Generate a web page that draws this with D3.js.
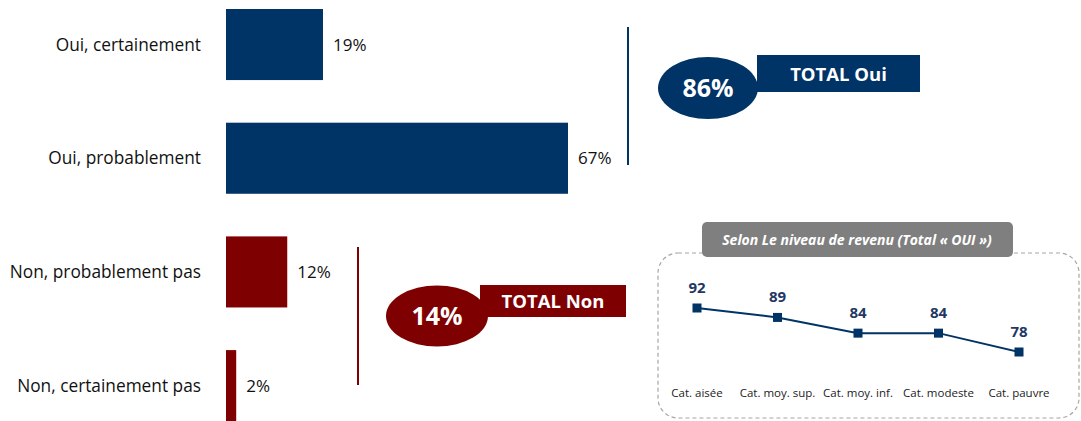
<!DOCTYPE html>
<html><head><meta charset="utf-8">
<script src="https://cdn.jsdelivr.net/npm/d3@7"></script>
<style>
html,body{margin:0;padding:0;background:#fff;}
svg{display:block;font-family:"Open Sans",sans-serif;}
</style></head>
<body><svg id="c" width="1081" height="421"></svg>
<script>
const categories = ["Oui, certainement","Oui, probablement","Non, probablement pas","Non, certainement pas"];
const values = [19, 67, 12, 2];
const groups = ["oui","oui","non","non"];
const totals = [{label:"TOTAL Oui", value:86, group:"oui"},{label:"TOTAL Non", value:14, group:"non"}];
const incomeCats = ["Cat. aisée","Cat. moy. sup.","Cat. moy. inf.","Cat. modeste","Cat. pauvre"];
const incomeVals = [92, 89, 84, 84, 78];
const insetTitle = "Selon Le niveau de revenu (Total « OUI »)";

const colors = {oui:"#003366", non:"#7f0000"};
const svg = d3.select("#c");

// Bars
const x = d3.scaleLinear().domain([0,67]).range([226,568]);
const step = 113.7;
const y = d3.scaleBand().domain(categories).range([9-0.1875*step, 9-0.1875*step+4*step]).paddingInner(0.375).paddingOuter(0.1875);

svg.selectAll("rect.bar").data(categories).enter().append("rect")
  .attr("class","bar")
  .attr("x", x(0)).attr("y", d=>y(d))
  .attr("width", (d,i)=>x(values[i])-x(0)).attr("height", y.bandwidth())
  .attr("fill",(d,i)=>colors[groups[i]]);

svg.selectAll("text.cat").data(categories).enter().append("text")
  .attr("x",201).attr("y",d=>y(d)+y.bandwidth()/2+6)
  .attr("text-anchor","end").attr("font-size",17.3).attr("fill","#111").text(d=>d);

svg.selectAll("text.val").data(categories).enter().append("text")
  .attr("x",(d,i)=>x(values[i])+10).attr("y",d=>y(d)+y.bandwidth()/2+6)
  .attr("font-size",17).attr("fill","#111").text((d,i)=>values[i]+"%");

// bracket lines
svg.append("line").attr("x1",628).attr("x2",628).attr("y1",27).attr("y2",165).attr("stroke",colors.oui).attr("stroke-width",2);
svg.append("line").attr("x1",358).attr("x2",358).attr("y1",247).attr("y2",385).attr("stroke",colors.non).attr("stroke-width",2);

// badges
const badgePos = [{rx:757,ry:55,rw:163,rh:37,ex:708,ey:88,erx:50,ery:31},{rx:480,ry:285,rw:146,rh:32,ex:437,ey:316,erx:51,ery:30.5}];
totals.forEach((t,i)=>{
  const p = badgePos[i];
  const g = svg.append("g");
  g.append("rect").attr("x",p.rx).attr("y",p.ry).attr("width",p.rw).attr("height",p.rh).attr("fill",colors[t.group]);
  g.append("ellipse").attr("cx",p.ex).attr("cy",p.ey).attr("rx",p.erx).attr("ry",p.ery).attr("fill",colors[t.group]);
  g.append("text").attr("x",p.ex).attr("y",p.ey+9).attr("text-anchor","middle").attr("font-size",25).attr("font-weight","bold").attr("fill","#fff").text(t.value+"%");
  g.append("text").attr("x",p.rx+p.rw/2).attr("y",p.ry+p.rh/2+7).attr("text-anchor","middle").attr("font-size",18.5).attr("font-weight","bold").attr("fill","#fff").text(t.label);
});

// inset
svg.append("rect").attr("x",658).attr("y",253).attr("width",421).attr("height",165).attr("rx",20).attr("ry",20)
  .attr("fill","none").attr("stroke","#a6a6a6").attr("stroke-width",1.2).attr("stroke-dasharray","4,3");
svg.append("rect").attr("x",702).attr("y",222).attr("width",311).attr("height",35).attr("rx",5).attr("fill","#7f7f7f");
svg.append("text").attr("x",857).attr("y",245).attr("text-anchor","middle").attr("font-size",14).attr("font-weight","bold").attr("font-style","italic").attr("fill","#fff").text(insetTitle);

const lx = d3.scalePoint().domain(incomeCats).range([697,1019]);
const ly = d3.scaleLinear().domain([78,92]).range([352,308]);
const line = d3.line().x((d,i)=>lx(incomeCats[i])).y(d=>ly(d));
svg.append("path").datum(incomeVals).attr("d",line).attr("fill","none").attr("stroke",colors.oui).attr("stroke-width",2);
svg.selectAll("rect.mk").data(incomeVals).enter().append("rect")
  .attr("x",(d,i)=>lx(incomeCats[i])-4.5).attr("y",d=>ly(d)-4.5).attr("width",9).attr("height",9).attr("fill",colors.oui);
svg.selectAll("text.lv").data(incomeVals).enter().append("text")
  .attr("x",(d,i)=>lx(incomeCats[i])).attr("y",d=>ly(d)-15).attr("text-anchor","middle")
  .attr("font-size",15).attr("font-weight","bold").attr("fill","#1f3864").text(d=>d);
svg.selectAll("text.lc").data(incomeCats).enter().append("text")
  .attr("x",d=>lx(d)).attr("y",397).attr("text-anchor","middle").attr("font-size",11.5).attr("fill","#222").text(d=>d);
</script></body></html>
